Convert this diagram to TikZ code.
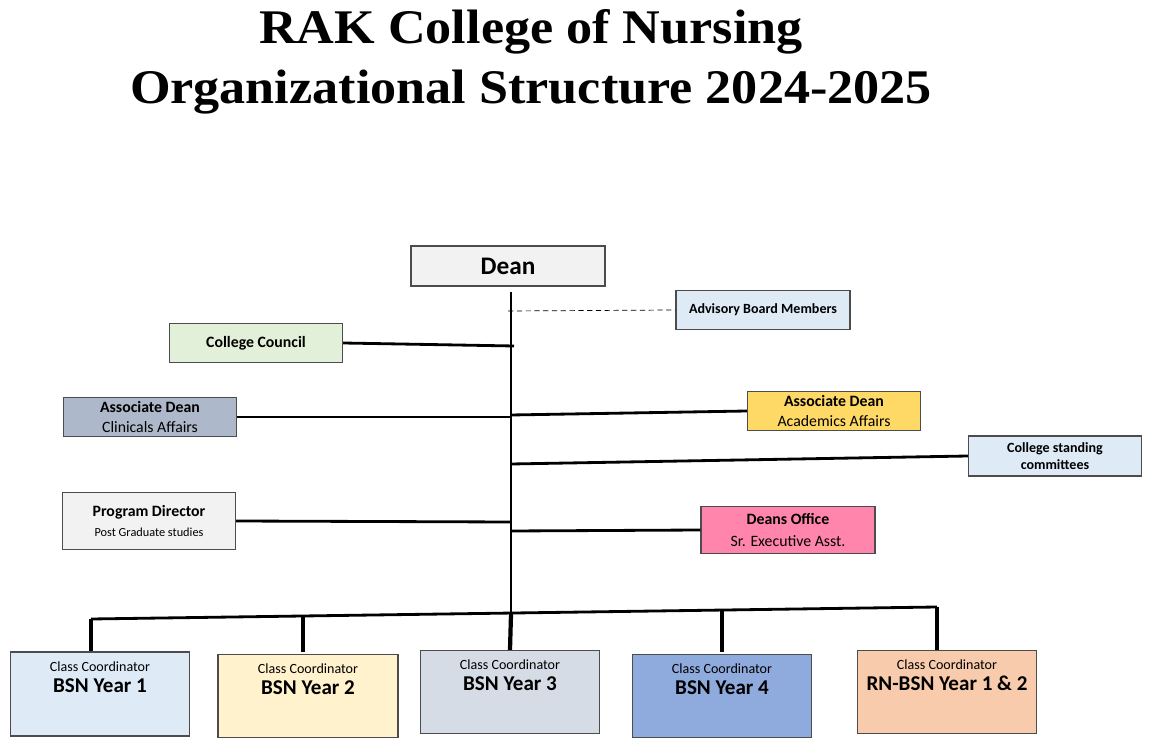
\documentclass[tikz,border=0pt]{standalone}
\usepackage{fontspec}
\setmainfont{Carlito}
\newfontfamily\titlefont{Liberation Serif}
\definecolor{deanfill}{HTML}{F2F2F2}
\definecolor{advfill}{HTML}{DEEBF7}
\definecolor{councilfill}{HTML}{E2F0D9}
\definecolor{clinfill}{HTML}{ADB9CA}
\definecolor{acadfill}{HTML}{FFD966}
\definecolor{officefill}{HTML}{FF85AD}
\definecolor{yrtwofill}{HTML}{FFF2CC}
\definecolor{yrthreefill}{HTML}{D6DCE5}
\definecolor{yrfourfill}{HTML}{8FAADC}
\definecolor{rnfill}{HTML}{F8CBAD}
\tikzset{
	box/.style={draw=black!70, line width=0.8pt, align=center, inner sep=1pt, font=\small},
	link/.style={line width=1.6pt},
	drop/.style={line width=2.4pt}
}
\newcommand{\classbox}[1]{{\footnotesize Class Coordinator}\\[1pt]{\large\bfseries #1}\\[8pt]~}
\begin{document}
\begin{tikzpicture}[x=0.02cm, y=-0.02cm]
	\useasboundingbox (0,0) rectangle (1149,749);

	% title
	\node[font=\titlefont\bfseries\fontsize{27.5}{34}\selectfont, align=center] (title) at (531,62)
		{\scalebox{1.08}[1]{RAK College of Nursing}\\\scalebox{1.08}[1]{Organizational Structure 2024-2025}};

	% top
	\node[box, fill=deanfill, minimum width=3.88cm, minimum height=0.8cm, font=\Large\bfseries] (dean) at (508,266) {Dean};
	\node[box, fill=advfill, minimum width=3.48cm, minimum height=0.78cm, font=\footnotesize\bfseries] (adv) at (763,310) {Advisory Board Members};
	\node[box, fill=councilfill, minimum width=3.46cm, minimum height=0.78cm, font=\small\bfseries] (council) at (256,343) {College Council};
	\node[box, fill=clinfill, minimum width=3.46cm, minimum height=0.78cm] (clin) at (150,417) {\textbf{Associate Dean}\\Clinicals Affairs};
	\node[box, fill=acadfill, minimum width=3.46cm, minimum height=0.78cm] (acad) at (834,411) {\textbf{Associate Dean}\\Academics Affairs};
	\node[box, fill=advfill, minimum width=3.46cm, minimum height=0.8cm, font=\footnotesize\bfseries] (standing) at (1055,456) {College standing\\committees};
	\node[box, fill=deanfill, minimum width=3.46cm, minimum height=1.14cm] (prog) at (149,521) {\textbf{Program Director}\\{\scriptsize Post Graduate studies}};
	\node[box, fill=officefill, minimum width=3.48cm, minimum height=0.94cm] (office) at (788,530) {\textbf{Deans Office}\\[2pt]Sr. Executive Asst.};

	% class coordinators
	\node[box, fill=advfill, minimum width=3.58cm, minimum height=1.68cm] (yrone) at (100,694) {\classbox{BSN Year 1}};
	\node[box, fill=yrtwofill, minimum width=3.6cm, minimum height=1.66cm] (yrtwo) at (308,696) {\classbox{BSN Year 2}};
	\node[box, fill=yrthreefill, minimum width=3.58cm, minimum height=1.66cm] (yrthree) at (510,692) {\classbox{BSN Year 3}};
	\node[box, fill=yrfourfill, minimum width=3.58cm, minimum height=1.66cm] (yrfour) at (722,696) {\classbox{BSN Year 4}};
	\node[box, fill=rnfill, minimum width=3.58cm, minimum height=1.66cm] (rn) at (947,692) {\classbox{RN-BSN Year 1 \& 2}};

	% trunk
	\coordinate (top) at (511,292);
	\coordinate (bottom) at (511,614);
	\coordinate (barL) at (91,619);
	\coordinate (barR) at (937,607);
	\draw[link] (top) -- (bottom);
	\draw[link] (barL) -- (barR);

	% branches
	\draw[densely dashed, thin] (508,311) -- (adv.west);
	\draw[link] (council.east) -- (514,346);
	\draw[link] (clin.east) -- (511,417);
	\draw[link] (511,415) -- (acad.west);
	\draw[link] (511,464) -- (standing.west);
	\draw[link] (prog.east) -- (511,522);
	\draw[link] (511,531) -- (office.west);

	% drops
	\draw[drop] (91,619) -- (yrone.north -| 91,0);
	\draw[drop] (303,616) -- (303,652);
	\draw[drop] (511,614) -- (yrthree.north);
	\draw[drop] (722,610) -- (722,652);
	\draw[drop] (937,607) -- (rn.north -| 937,0);
\end{tikzpicture}
\end{document}
